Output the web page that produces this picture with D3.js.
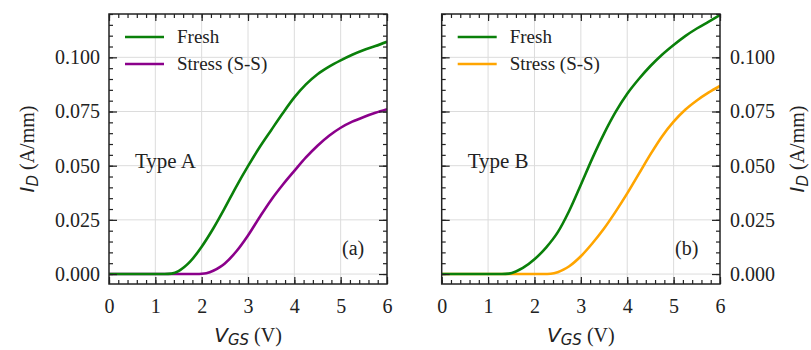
<!DOCTYPE html>
<html>
<head>
<meta charset="utf-8">
<script src="https://cdn.jsdelivr.net/npm/d3@7"></script>
<style>
  body { margin: 0; background: #fff; }
  svg { display: block; }
  text { font-family: "Liberation Serif", "Times New Roman", serif; fill: #222; }
  .sans { font-family: "DejaVu Sans", sans-serif; font-style: italic; }
</style>
</head>
<body>
<div id="chart"></div>
<script>
// V_GS sample points (V) for each curve
const vA_fresh = [0, 1.0, 1.2, 1.35, 1.5, 1.625, 1.75, 2.0, 2.25, 2.5, 2.75, 3.0, 3.25, 3.5, 3.75, 4.0, 4.25, 4.5, 4.75, 5.0, 5.25, 5.5, 5.75, 6.0];
const iA_fresh = [0, 0, 0, 0.0002, 0.0013, 0.0032, 0.0057, 0.0126, 0.021, 0.0305, 0.0405, 0.0498, 0.0585, 0.0664, 0.0742, 0.0815, 0.0875, 0.0922, 0.0957, 0.0986, 0.1012, 0.1034, 0.1052, 0.1072];

const vA_stress = [0, 1.0, 1.9, 2.0, 2.1, 2.25, 2.4, 2.5, 2.75, 3.0, 3.25, 3.5, 3.75, 4.0, 4.25, 4.5, 4.75, 5.0, 5.25, 5.5, 5.75, 6.0];
const iA_stress = [0, 0, 0, 0.0001, 0.0004, 0.0015, 0.0033, 0.0049, 0.0105, 0.0178, 0.0262, 0.0342, 0.0412, 0.0476, 0.0538, 0.0592, 0.0638, 0.0675, 0.0703, 0.0725, 0.0744, 0.0761];

const vB_fresh = [0, 1.0, 1.3, 1.45, 1.6, 1.75, 2.0, 2.25, 2.5, 2.75, 3.0, 3.25, 3.5, 3.75, 4.0, 4.25, 4.5, 4.75, 5.0, 5.25, 5.5, 5.75, 6.0];
const iB_fresh = [0, 0, 0, 0.0002, 0.0012, 0.0028, 0.0068, 0.0122, 0.0192, 0.0292, 0.0412, 0.0535, 0.0648, 0.0748, 0.0832, 0.0900, 0.0960, 0.1012, 0.1057, 0.1098, 0.1133, 0.1164, 0.1195];

const vB_stress = [0, 1.0, 2.0, 2.2, 2.35, 2.5, 2.625, 2.75, 3.0, 3.25, 3.5, 3.75, 4.0, 4.25, 4.5, 4.75, 5.0, 5.25, 5.5, 5.75, 6.0];
const iB_stress = [0, 0, 0, 0, 0.0001, 0.0008, 0.002, 0.0036, 0.0082, 0.0142, 0.021, 0.0288, 0.0372, 0.0462, 0.0552, 0.0635, 0.0703, 0.0758, 0.0801, 0.0837, 0.0868];

const xTicks = [0, 1, 2, 3, 4, 5, 6];
const yTicks = [0, 0.025, 0.05, 0.075, 0.1];
const seriesNames = ["Fresh", "Stress (S-S)"];

const W = 811, H = 350;
const plotTop = 14, plotBottom = 284;

const svg = d3.select("#chart").append("svg")
    .attr("width", W)
    .attr("height", H);

const panels = [
    { left: 109, right: 387, side: "left", tag: "(a)", type: "Type A",
      fresh: [vA_fresh, iA_fresh], stress: [vA_stress, iA_stress], stressColor: "#8b008b" },
    { left: 441.7, right: 720, side: "right", tag: "(b)", type: "Type B",
      fresh: [vB_fresh, iB_fresh], stress: [vB_stress, iB_stress], stressColor: "#ffa500" }
];

panels.forEach(function (p, k) {
    const x = d3.scaleLinear().domain([0, 6]).range([p.left, p.right]);
    const y = d3.scaleLinear().domain([-0.0046, 0.12]).range([plotBottom, plotTop]);
    const g = svg.append("g");

    // grid
    g.append("g").selectAll("line").data(xTicks.slice(1, -1)).enter().append("line")
        .attr("x1", d => x(d)).attr("x2", d => x(d))
        .attr("y1", plotTop).attr("y2", plotBottom)
        .attr("stroke", "#dcdcdc").attr("stroke-width", 1);
    g.append("g").selectAll("line").data(yTicks).enter().append("line")
        .attr("x1", p.left).attr("x2", p.right)
        .attr("y1", d => y(d)).attr("y2", d => y(d))
        .attr("stroke", "#dcdcdc").attr("stroke-width", 1);

    // curves
    const clipId = "clip" + k;
    svg.append("clipPath").attr("id", clipId).append("rect")
        .attr("x", p.left).attr("y", plotTop)
        .attr("width", p.right - p.left).attr("height", plotBottom - plotTop);

    const line = d3.line()
        .x(d => x(d[0]))
        .y(d => y(d[1]))
        .curve(d3.curveMonotoneX);

    const curves = [
        { v: p.stress[0], i: p.stress[1], color: p.stressColor },
        { v: p.fresh[0], i: p.fresh[1], color: "#0a800a" }
    ];
    curves.forEach(function (c) {
        g.append("path")
            .datum(d3.zip(c.v, c.i))
            .attr("clip-path", "url(#" + clipId + ")")
            .attr("fill", "none")
            .attr("stroke", c.color)
            .attr("stroke-width", 2.6)
            .attr("d", line);
    });

    // axes with inward ticks
    const xMinor = d3.range(0, 6.001, 0.2);
    const yMinor = d3.range(0, 0.1201, 0.005);

    const addAxis = function (axis, tx, ty, labels) {
        const a = g.append("g").attr("transform", "translate(" + tx + "," + ty + ")").call(axis);
        a.select(".domain").remove();
        a.selectAll("line").attr("stroke", "#222").attr("stroke-width", 1.2);
        a.selectAll("text").attr("font-size", 20).attr("fill", "#222")
            .attr("font-family", "'Liberation Serif', 'Times New Roman', serif");
        if (!labels) a.selectAll("text").remove();
        return a;
    };

    addAxis(d3.axisBottom(x).tickValues(xMinor).tickSize(-4).tickFormat(""), 0, plotBottom, false);
    addAxis(d3.axisTop(x).tickValues(xMinor).tickSize(-4).tickFormat(""), 0, plotTop, false);
    addAxis(d3.axisBottom(x).tickValues(xTicks).tickSize(-7).tickPadding(15).tickFormat(d3.format("d")), 0, plotBottom, true);
    addAxis(d3.axisTop(x).tickValues(xTicks).tickSize(-7).tickFormat(""), 0, plotTop, false);

    addAxis(d3.axisLeft(y).tickValues(yMinor).tickSize(-4).tickFormat(""), p.left, 0, false);
    addAxis(d3.axisRight(y).tickValues(yMinor).tickSize(-4).tickFormat(""), p.right, 0, false);
    if (p.side === "left") {
        addAxis(d3.axisLeft(y).tickValues(yTicks).tickSize(-8).tickPadding(9).tickFormat(d3.format(".3f")), p.left, 0, true);
        addAxis(d3.axisRight(y).tickValues(yTicks).tickSize(-8).tickFormat(""), p.right, 0, false);
    } else {
        addAxis(d3.axisLeft(y).tickValues(yTicks).tickSize(-8).tickFormat(""), p.left, 0, false);
        addAxis(d3.axisRight(y).tickValues(yTicks).tickSize(-8).tickPadding(10).tickFormat(d3.format(".3f")), p.right, 0, true);
    }

    // frame
    g.append("rect")
        .attr("x", p.left).attr("y", plotTop)
        .attr("width", p.right - p.left).attr("height", plotBottom - plotTop)
        .attr("fill", "none").attr("stroke", "#222").attr("stroke-width", 1.5);

    // legend
    const lx = p.left + 16;
    [["#0a800a", seriesNames[0], 37], [p.stressColor, seriesNames[1], 64]].forEach(function (e) {
        g.append("line")
            .attr("x1", lx).attr("x2", lx + 39)
            .attr("y1", e[2]).attr("y2", e[2])
            .attr("stroke", e[0]).attr("stroke-width", 2.6);
        g.append("text")
            .attr("x", lx + 52).attr("y", e[2] + 6)
            .attr("font-size", 19)
            .text(e[1]);
    });

    // annotations
    g.append("text").attr("x", p.left + 26).attr("y", 168).attr("font-size", 21).text(p.type);
    g.append("text").attr("x", p.right - 45).attr("y", 255).attr("font-size", 20).text(p.tag);

    // x title
    const xt = g.append("text")
        .attr("x", (p.left + p.right) / 2).attr("y", 342)
        .attr("text-anchor", "middle").attr("font-size", 20);
    xt.append("tspan").attr("class", "sans").text("V");
    xt.append("tspan").attr("class", "sans").attr("font-size", 15).attr("dy", 3).text("GS");
    xt.append("tspan").attr("dy", -3).text(" (V)");

    // y title
    const yx = p.side === "left" ? 34 : 804;
    const yt = g.append("text")
        .attr("transform", "translate(" + yx + "," + (plotTop + plotBottom) / 2 + ") rotate(-90)")
        .attr("text-anchor", "middle").attr("font-size", 20);
    yt.append("tspan").attr("class", "sans").text("I");
    yt.append("tspan").attr("class", "sans").attr("font-size", 15).attr("dy", 4).text("D");
    yt.append("tspan").attr("dy", -4).text(" (A/mm)");
});
</script>
</body>
</html>
